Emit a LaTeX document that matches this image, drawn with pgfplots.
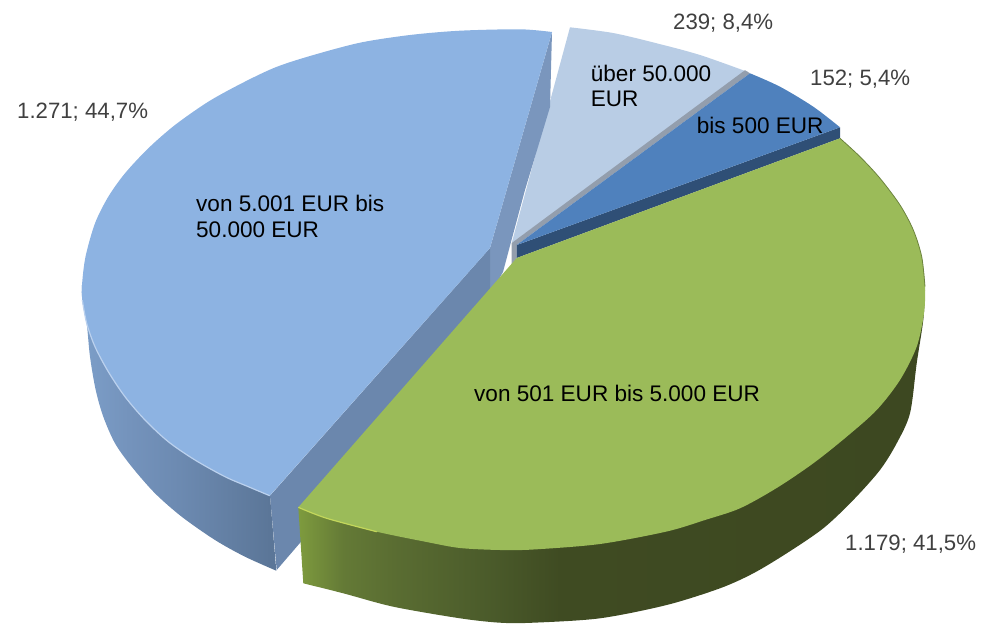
\documentclass[border=0pt]{standalone}
\usepackage{fontspec}
\setmainfont{Liberation Sans}
\usepackage{pgfplots}
\pgfplotsset{compat=1.18}
\definecolor{cLight}{HTML}{8DB3E2}
\definecolor{cPale}{HTML}{B9CDE5}
\definecolor{cBlue}{HTML}{4F81BD}
\definecolor{cGreen}{HTML}{9BBB59}
\definecolor{cCutA}{HTML}{6B87AD}
\definecolor{cCutB}{HTML}{7A96BD}
\definecolor{cGrey}{HTML}{939EAD}
\definecolor{cCutBlue}{HTML}{2F4F76}
\definecolor{cTxt}{HTML}{404040}
\pgfdeclarehorizontalshading{blueside}{100bp}{
 rgb(0bp)=(.486,.62,.784); rgb(25bp)=(.486,.62,.784); rgb(37.2bp)=(.455,.576,.737);
 rgb(50bp)=(.424,.541,.694); rgb(63bp)=(.388,.498,.639); rgb(73.3bp)=(.357,.463,.596); rgb(100bp)=(.357,.463,.596)}
\pgfdeclarehorizontalshading{greenside}{100bp}{
 rgb(0bp)=(.494,.608,.243); rgb(25bp)=(.494,.608,.243); rgb(28.6bp)=(.392,.478,.212);
 rgb(32.6bp)=(.353,.427,.196); rgb(40.5bp)=(.29,.353,.165); rgb(45.9bp)=(.247,.294,.133); rgb(75bp)=(.239,.282,.129); rgb(100bp)=(.239,.282,.129)}
\newcommand{\lab}[4]{\node[anchor=base west,inner sep=0pt,text=#3,font=\fontsize{22.2}{26}\selectfont] at (axis cs:#1,#2) {#4};}
\newcommand{\labi}[3]{\node[anchor=base west,inner sep=0pt,text=black,font=\fontsize{22.55}{26}\selectfont] at (axis cs:#1,#2) {#3};}
\begin{document}
\begin{tikzpicture}
\begin{axis}[
  width=986pt,height=624pt,scale only axis,
  xmin=0,xmax=986,ymin=0,ymax=624,y dir=reverse,
  axis lines=none,ticks=none,clip=false]
\path (axis cs:0,0) rectangle (axis cs:986,624);
% pale slice
\addplot[smooth,fill=cPale,draw=none] coordinates {(570,27.3)(613,33)(656.7,43.3)(700,55)(748,72)} -- (axis cs:511.7,243) -- cycle;
% grey cut face
\addplot[fill=cGrey,draw=none] coordinates {(745,70.2)(750,73.3)(516.7,245)(516.7,262)(511.7,264)(511.7,243)} -- cycle;
% dark blue slice
\addplot[fill=cCutBlue,draw=none] coordinates {(516.7,245)(840,127.3)(840,138.3)(516.7,258)} -- cycle;
\addplot[smooth,fill=cBlue,draw=none] coordinates {(750,73.3)(780,86.7)(813.3,106.7)(840,127.3)} -- (axis cs:516.7,245) -- cycle;
% light blue cut faces
\addplot[fill=cCutB,draw=none] coordinates {(552,32)(550,107)(525,190)(511,242)(503,272)(490,295)(490,248)} -- cycle;
\addplot[fill=cCutA,draw=none] coordinates {(270,495.7)(490,248)(490,322)(276.7,570)} -- cycle;
% light blue outer side
\addplot[smooth,shade,shading=blueside,draw=none] coordinates {(82,285)(82.3,300)(86.7,323.3)(90,356.7)(95.7,390)(103.3,416.7)(115,443.3)(131.7,466.7)(155,493.3)(181.7,516.7)(215,540)(245,556.7)(276.3,570.7)} -- (axis cs:270,495.7) -- (axis cs:200,300) -- cycle;
% light blue top
\addplot[smooth,fill=cLight,draw=none] coordinates {(552,32)(520,29.3)(460,30.7)(410,35)(360,42.7)(310,56)(275,67.5)(241.7,83.3)(208.3,101.7)(175,125)(148.3,148.3)(125,173.3)(108.3,196.7)(95,223.3)(85.5,256.7)(82,285)(82.3,300)(86.7,323.3)(95,346.7)(108.3,371.7)(125,396.7)(145,420)(168.3,441.7)(195,460)(225,476.7)(248.3,486.7)(269.7,495.7)} -- (axis cs:490,248) -- cycle;
\addplot[smooth,color=cLight!60!white,line width=1.2pt] coordinates {(82.3,300)(86.7,323.3)(95,346.7)(108.3,371.7)(125,396.7)(145,420)(168.3,441.7)(195,460)(225,476.7)(248.3,486.7)(269.7,495.7)};
% green side
\addplot[smooth,shade,shading=greenside,draw=none] coordinates {(925,290)(923.3,320)(916.7,363.3)(910,413.3)(896.7,443.3)(880,470)(853.3,500)(823.3,528.3)(786.7,553.3)(753.3,573.3)(720,588.3)(666.7,605)(600,618.3)(533.3,622.7)(500,622.7)(460,618.3)(393.3,606.7)(343.3,593.3)(303.3,583.3)} -- (axis cs:298.3,507.3) -- (axis cs:600,400) -- cycle;
% green top
\addplot[smooth,fill=cGreen,draw=none] coordinates {(840,138.3)(860,156.7)(880,178.3)(900,205)(913.3,230)(921.7,256.7)(925,286.7)(924,313.3)(916.7,346.7)(900,380)(876.7,410)(846.7,436.7)(813.3,463.3)(776.7,488)(740,508.3)(705,520)(666.7,531.5)(600,544)(533.3,549.5)(500,550)(460,548)(426.7,542)(376.7,531.7)(326.7,518.3)(298.3,507.3)} -- (axis cs:516.7,258) -- cycle;
\addplot[smooth,color=cGreen!70!black,line width=.8pt] coordinates {(840,138.3)(860,156.7)(880,178.3)(900,205)(913.3,230)(921.7,256.7)(925,286.7)};
\addplot[smooth,color=cGreen!70!yellow!85!white,line width=1.2pt] coordinates {(298.3,507.3)(326.7,518.3)(376.7,531.7)};
% labels
\lab{17}{118}{cTxt}{1.271; 44,7\%}
\lab{673}{29}{cTxt}{239; 8,4\%}
\lab{810}{85}{cTxt}{152; 5,4\%}
\lab{845}{550}{cTxt}{1.179; 41,5\%}
\labi{696.7}{133.3}{bis 500 EUR}
\labi{590.7}{81}{über 50.000}
\labi{590.7}{106.7}{EUR}
\labi{196}{211.7}{von 5.001 EUR bis}
\labi{196}{237.3}{50.000 EUR}
\labi{474}{401}{von 501 EUR bis 5.000 EUR}
\end{axis}
\end{tikzpicture}
\end{document}
